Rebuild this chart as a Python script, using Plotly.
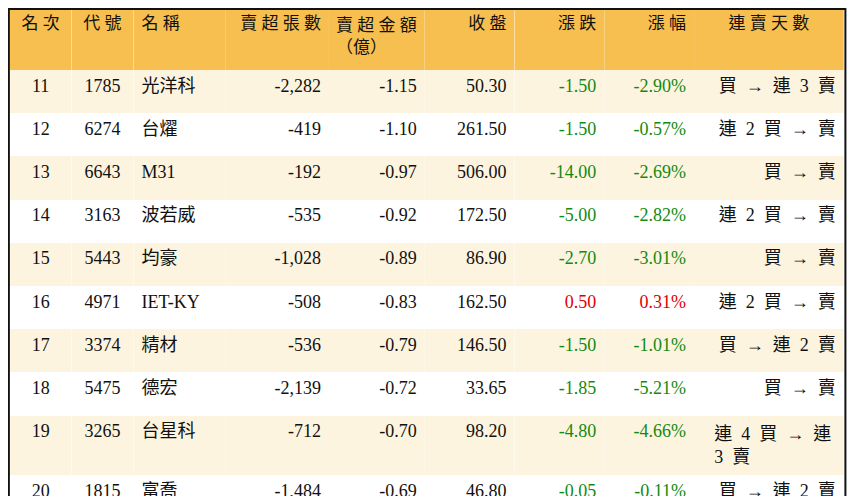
import plotly.graph_objects as go

ranks = [11, 12, 13, 14, 15, 16, 17, 18, 19, 20]
codes = ["1785", "6274", "6643", "3163", "5443", "4971", "3374", "5475", "3265", "1815"]
names = ["光洋科", "台燿", "M31", "波若威", "均豪", "IET-KY", "精材", "德宏", "台星科", "富喬"]
sell_lots = [-2282, -419, -192, -535, -1028, -508, -536, -2139, -712, -1484]
sell_amount = [-1.15, -1.10, -0.97, -0.92, -0.89, -0.83, -0.79, -0.72, -0.70, -0.69]
close = [50.30, 261.50, 506.00, 172.50, 86.90, 162.50, 146.50, 33.65, 98.20, 46.80]
change = [-1.50, -1.50, -14.00, -5.00, -2.70, 0.50, -1.50, -1.85, -4.80, -0.05]
change_pct = [-2.90, -0.57, -2.69, -2.82, -3.01, 0.31, -1.01, -5.21, -4.66, -0.11]
streak = ["買 → 連 3 賣", "連 2 買 → 賣", "買 → 賣", "連 2 買 → 賣", "買 → 賣",
          "連 2 買 → 賣", "買 → 連 2 賣", "買 → 賣", "連 4 買 → 連 3 賣", "買 → 連 2 賣"]
headers = ["名 次", "代 號", "名 稱", "賣 超 張 數", "賣 超 金 額<br>（億）", "收 盤", "漲 跌", "漲 幅", "連 賣 天 數"]

row_fill = ["#FDF4DF" if i % 2 == 0 else "white" for i in range(len(ranks))]
chg_color = ["#e00000" if c > 0 else "#138a13" for c in change]
black = ["#111"] * len(ranks)

cols = [
    [str(r) for r in ranks],
    codes,
    names,
    [f"{v:,}" for v in sell_lots],
    [f"{v:.2f}" for v in sell_amount],
    [f"{v:.2f}" for v in close],
    [f"{v:.2f}" for v in change],
    [f"{v:.2f}%" for v in change_pct],
    [s.replace(" ", "  ") for s in streak],
]
font_colors = [black] * 6 + [chg_color, chg_color, black]
fam = "Liberation Serif, Noto Sans CJK TC"

fig = go.Figure(go.Table(
    domain=dict(x=[0.002, 0.975], y=[0, 1]),
    columnwidth=[62, 62, 92, 104, 96, 90, 90, 90, 150],
    header=dict(
        values=headers,
        fill_color="#F7BF4F",
        line_width=0,
        height=62,
        align=["center", "center", "left", "right", "right", "right", "right", "right", "center"],
        font=dict(family=fam, size=17, color="#111"),
    ),
    cells=dict(
        values=cols,
        fill_color=[row_fill] * 9,
        line_width=0,
        height=43.2,
        align=["center", "center", "left", "right", "right", "right", "right", "right", "right"],
        font=dict(family=fam, size=18, color=font_colors),
    ),
))
fig.add_shape(type="rect", xref="paper", yref="paper", x0=0.001, y0=0.002, x1=0.976, y1=0.998,
              line=dict(color="#111", width=2))
fig.update_layout(width=858, height=496, margin=dict(l=0, r=0, t=0, b=0),
                  paper_bgcolor="white")
fig.write_html("out.html")
